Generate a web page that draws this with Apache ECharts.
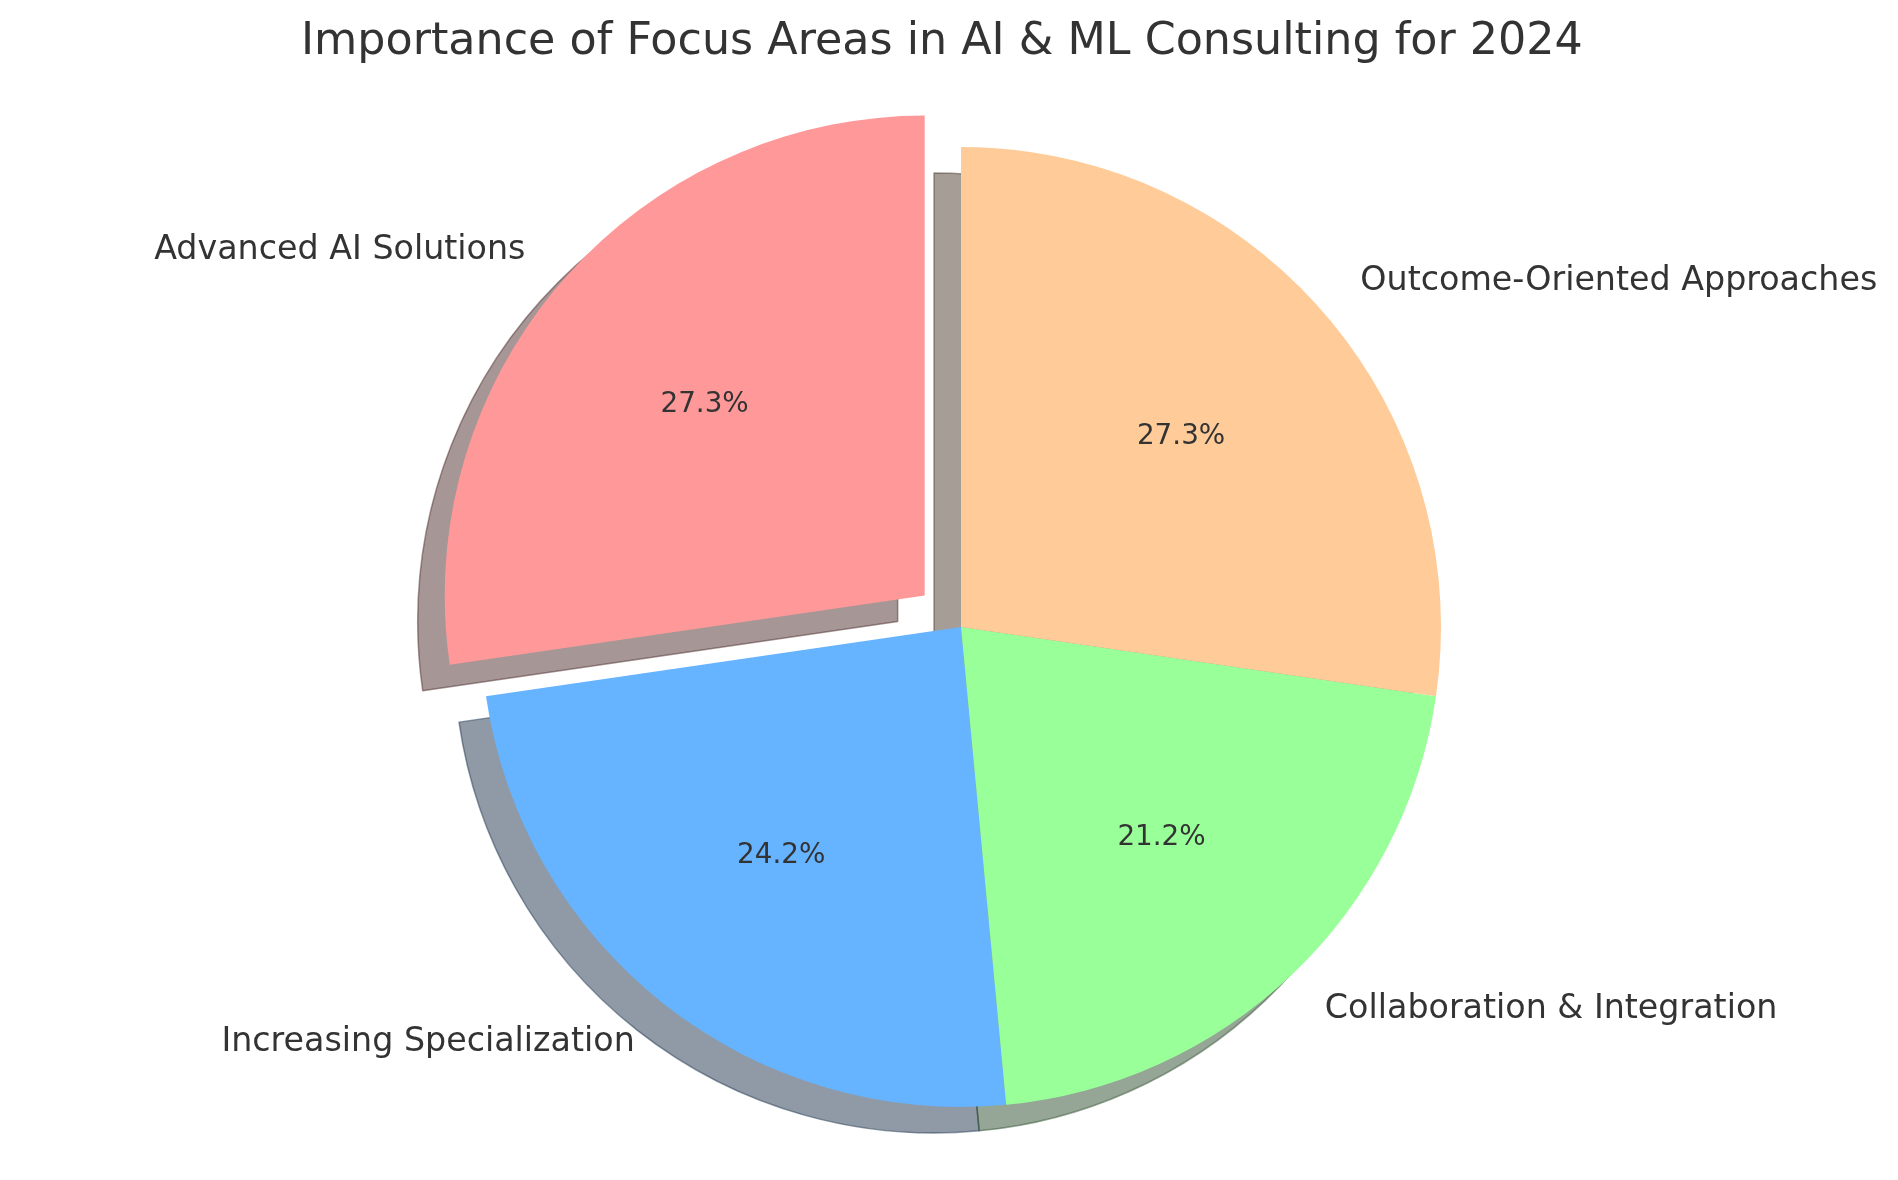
<!DOCTYPE html>
<html>
<head>
<meta charset="utf-8">
<script src="https://cdn.jsdelivr.net/npm/echarts@6/dist/echarts.min.js"></script>
<style>
html,body{margin:0;padding:0;background:#fff;}
#chart{width:1898px;height:1180px;}
</style>
</head>
<body>
<div id="chart"></div>
<script>
const titleText = 'Importance of Focus Areas in AI & ML Consulting for 2024';
const categories = ['Advanced AI Solutions', 'Increasing Specialization', 'Collaboration & Integration', 'Outcome-Oriented Approaches'];
const values = [27.3, 24.2, 21.2, 27.3];
const colors = ['#ff9999', '#66b3ff', '#99ff99', '#ffcc99'];
const explode = [0.1, 0, 0, 0];

const R = 480;
const CX = 961, CY = 627;
const SH_DX = -27, SH_DY = 26;
const FONT = 'DejaVu Sans';
const TEXT = '#333333';

function shadowColor(hex) {
  const r = parseInt(hex.slice(1, 3), 16), g = parseInt(hex.slice(3, 5), 16), b = parseInt(hex.slice(5, 7), 16);
  return 'rgba(' + Math.round(r * 0.3) + ',' + Math.round(g * 0.3) + ',' + Math.round(b * 0.3) + ',0.5)';
}

function makeData(styleFn) {
  return categories.map((c, i) => {
    const st = styleFn(i);
    return {
      name: c,
      value: values[i],
      selected: explode[i] > 0,
      itemStyle: st,
      select: { itemStyle: st }
    };
  });
}

const common = {
  type: 'pie',
  startAngle: 90,
  clockwise: false,
  selectedMode: 'single',
  selectedOffset: R * 0.1,
  avoidLabelOverlap: false,
  percentPrecision: 1,
  emphasis: { disabled: true, scale: false },
  animation: false
};

const chart = echarts.init(document.getElementById('chart'), null, { renderer: 'canvas' });
chart.setOption({
  backgroundColor: '#ffffff',
  animation: false,
  title: {
    text: titleText,
    left: 301,
    top: 20,
    padding: 0,
    textStyle: { fontFamily: FONT, fontSize: 44.4, fontWeight: 'normal', color: TEXT }
  },
  series: [
    Object.assign({}, common, {
      name: 'shadow',
      silent: true,
      z: 1,
      center: [CX + SH_DX, CY + SH_DY],
      radius: R,
      label: { show: false },
      labelLine: { show: false },
      data: makeData(i => ({ color: shadowColor(colors[i]), borderColor: shadowColor(colors[i]), borderWidth: 1.5 }))
    }),
    Object.assign({}, common, {
      name: 'main',
      z: 2,
      silent: true,
      center: [CX, CY],
      radius: R,
      label: {
        show: true,
        position: 'outside',
        formatter: '{b}',
        fontFamily: FONT,
        fontSize: 33.3,
        color: TEXT,
        distanceToLabelLine: 0
      },
      labelLine: { show: false, length: R * 0.1, length2: 0 },
      data: makeData(i => ({ color: colors[i], borderWidth: 0 }))
    }),
    Object.assign({}, common, {
      name: 'pct',
      z: 3,
      silent: true,
      center: [CX, CY],
      radius: R * 1.2,
      label: {
        show: true,
        position: 'inside',
        formatter: '{d}%',
        fontFamily: FONT,
        fontSize: 27.8,
        color: TEXT
      },
      labelLine: { show: false },
      data: makeData(i => ({ color: 'rgba(0,0,0,0)', borderWidth: 0 }))
    })
  ]
});
</script>
</body>
</html>
